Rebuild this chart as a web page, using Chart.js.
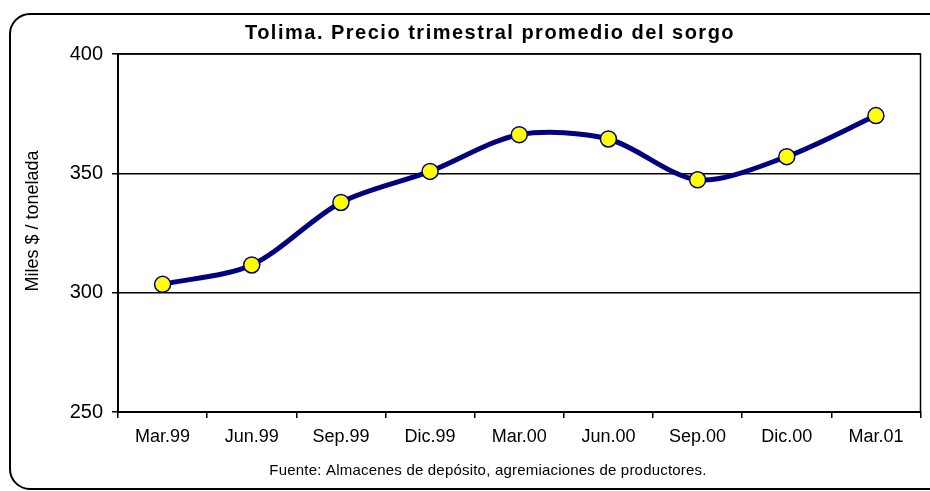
<!DOCTYPE html>
<html>
<head>
<meta charset="utf-8">
<script src="https://cdn.jsdelivr.net/npm/chart.js@4"></script>
<style>
  body { margin: 0; background: #fff; }
</style>
</head>
<body>
<canvas id="sorgoChart" width="930" height="491"></canvas>
<script>
// Data for the sorghum price chart
const quarters = ['Mar.99', 'Jun.99', 'Sep.99', 'Dic.99', 'Mar.00', 'Jun.00', 'Sep.00', 'Dic.00', 'Mar.01'];
const prices = [303.5, 311.6, 337.8, 350.8, 366.2, 364.4, 347.3, 357.0, 374.2];
const yMin = 250;
const yMax = 400;
const yStep = 50;

const titleText = 'Tolima. Precio trimestral promedio del sorgo';
const yAxisText = 'Miles $ / tonelada';
const sourceText = 'Fuente: Almacenes de depósito, agremiaciones de productores.';

const FONT = '"Liberation Sans", Arial, sans-serif';

// frame, plot border, titles and source note
const decorations = {
    id: 'decorations',
    beforeDraw(chart) {
        const ctx = chart.ctx;
        ctx.save();
        ctx.strokeStyle = '#000';
        ctx.lineWidth = 2;
        ctx.beginPath();
        ctx.roundRect(10, 14, 940, 475, 20);
        ctx.stroke();
        ctx.restore();
    },
    beforeDatasetsDraw(chart) {
        const { ctx, chartArea: a } = chart;
        ctx.save();
        ctx.strokeStyle = '#000';
        ctx.lineWidth = 1.5;
        ctx.beginPath();
        ctx.moveTo(a.left, a.top);
        ctx.lineTo(a.right, a.top);
        ctx.lineTo(a.right, a.bottom);
        ctx.stroke();
        ctx.restore();
    },
    afterDraw(chart) {
        const ctx = chart.ctx;
        ctx.save();
        ctx.fillStyle = '#000';
        ctx.textAlign = 'center';
        ctx.textBaseline = 'alphabetic';
        ctx.letterSpacing = '1.5px';
        ctx.font = 'bold 20px ' + FONT;
        ctx.fillText(titleText, 490, 39);
        ctx.letterSpacing = '0.2px';
        ctx.font = '15px ' + FONT;
        ctx.fillText(sourceText, 488, 475);
        // y axis title, sits a little above the plot centre like the original
        ctx.letterSpacing = '0px';
        ctx.font = '18px ' + FONT;
        ctx.textBaseline = 'middle';
        ctx.translate(33, 221);
        ctx.rotate(-Math.PI / 2);
        ctx.fillText(yAxisText, 0, 0);
        ctx.restore();
    }
};

const ctx = document.getElementById('sorgoChart').getContext('2d');
const sorgoChart = new Chart(ctx, {
    type: 'line',
    data: {
        labels: quarters,
        datasets: [{
            label: 'Precio',
            data: prices,
            borderColor: '#000080',
            borderWidth: 5,
            tension: 0.3,
            pointRadius: 8,
            pointHoverRadius: 8,
            pointBackgroundColor: '#ffff00',
            pointBorderColor: '#000080',
            pointBorderWidth: 1.5,
            clip: false
        }]
    },
    options: {
        responsive: false,
        devicePixelRatio: 1,
        animation: false,
        layout: {
            padding: { top: 54, right: 4, left: 0, bottom: 0 }
        },
        scales: {
            x: {
                type: 'category',
                offset: true,
                grid: {
                    offset: true,
                    drawOnChartArea: false,
                    drawTicks: true,
                    tickLength: 6,
                    color: '#000',
                    lineWidth: 1.5
                },
                border: { color: '#000', width: 2 },
                ticks: {
                    color: '#000',
                    font: { family: FONT, size: 18 },
                    padding: 8,
                    maxRotation: 0,
                    autoSkip: false
                },
                afterFit(scale) { scale.height = 79; }
            },
            y: {
                min: yMin,
                max: yMax,
                ticks: {
                    stepSize: yStep,
                    color: '#000',
                    font: { family: FONT, size: 20 },
                    padding: 9
                },
                grid: {
                    color: '#000',
                    lineWidth: 1.5,
                    tickLength: 6
                },
                border: { color: '#000', width: 2 },
                afterFit(scale) { scale.width = 118; }
            }
        },
        plugins: {
            legend: { display: false },
            title: { display: false },
            tooltip: { enabled: false }
        }
    },
    plugins: [decorations]
});
</script>
</body>
</html>
